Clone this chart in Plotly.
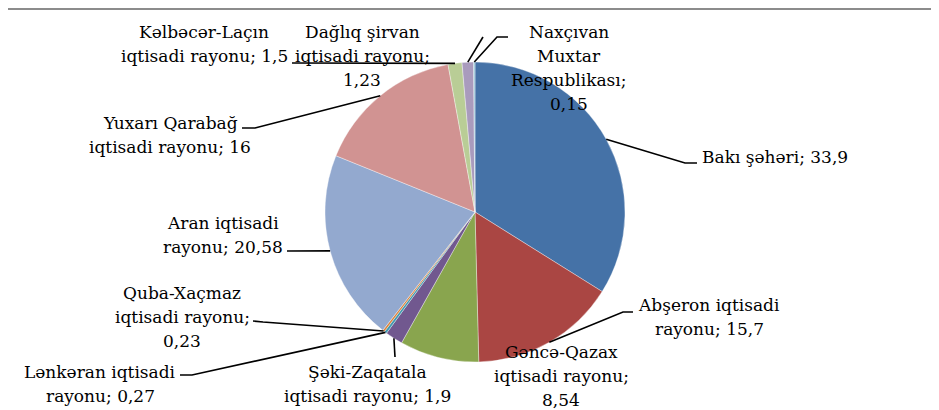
import math
import plotly.graph_objects as go

# ---- data ----
names = ["Bakı şəhəri", "Abşeron iqtisadi rayonu", "Gəncə-Qazax iqtisadi rayonu",
         "Şəki-Zaqatala iqtisadi rayonu", "Lənkəran iqtisadi rayonu",
         "Quba-Xaçmaz iqtisadi rayonu", "Aran iqtisadi rayonu",
         "Yuxarı Qarabağ iqtisadi rayonu", "Kəlbəcər-Laçın iqtisadi rayonu",
         "Dağlıq şirvan iqtisadi rayonu", "Naxçıvan Muxtar Respublikası"]
values = [33.9, 15.7, 8.54, 1.9, 0.27, 0.23, 20.58, 16, 1.5, 1.23, 0.15]
colors = ["#4572A7", "#AA4643", "#89A54E", "#71588F", "#4198AF", "#DB843D",
          "#93A9CF", "#D19392", "#B9CD96", "#A99BBD", "#91C3D5"]

# ---- layout (target pixels in the 939x410 window) ----
OFF = 8                      # page body margin
W, H = 939 - OFF, 410 - OFF  # figure size
CX, CY, R = 475, 212, 150
FONT = "DejaVu Serif"
FS = 17
LINE_H = 24

# words per line for each label
wraps = [[3], [2, 2], [1, 2, 1], [1, 3], [2, 2], [1, 2, 1], [2, 2], [2, 3], [1, 3], [2, 2, 1], [1, 1, 1, 1]]
# label position: (center x, first line center y)
label_pos = [(775, 157), (709, 305), (561, 352), (367, 372), (100, 372), (182, 293),
             (223, 223), (170, 123), (204, 32), (362, 32), (569, 32)]
# leader line extra points after the pie edge point
leader_pts = [[(685, 163), (697, 163)], [(623, 312), (633, 312)], [], [(395, 357)],
              [(192, 375), (180, 375)], [(263, 322), (253, 321)], [(287, 251)],
              [(255, 128), (242, 128)], [(292, 63)], [(483, 37)], [(497, 37), (508, 37)]]


def px(x):
    return (x - OFF) / W


def py(y):
    return 1 - (y - OFF) / H


def fmt(v):
    return ("%g" % v).replace(".", ",")


fig = go.Figure(go.Pie(
    labels=names, values=values, sort=False, direction="clockwise", rotation=0,
    marker=dict(colors=colors, line=dict(color="rgba(255,255,255,0.6)", width=0.6)),
    textinfo="none", hoverinfo="label+value", showlegend=False,
    domain=dict(x=[px(CX - R), px(CX + R)], y=[py(CY + R), py(CY - R)]),
))

annotations = []
shapes = []
total = sum(values)
cum = 0.0
for i, (n, v) in enumerate(zip(names, values)):
    mid = (cum + v / 2) / total * 2 * math.pi
    cum += v
    words = f"{n}; {fmt(v)}".split(" ")
    lines = []
    k = 0
    for c in wraps[i]:
        lines.append(" ".join(words[k:k + c]))
        k += c
    lx, ly = label_pos[i]
    for j, ln in enumerate(lines):
        annotations.append(dict(
            x=px(lx), y=py(ly + j * LINE_H), xref="paper", yref="paper",
            text=ln, showarrow=False, xanchor="center", yanchor="middle",
            font=dict(family=FONT, size=FS, color="#000000")))
    if leader_pts[i]:
        sx = CX + R * math.sin(mid)
        sy = CY - R * math.cos(mid)
        pts = [(sx, sy)] + leader_pts[i]
        path = "M " + " L ".join(f"{px(a):.5f},{py(b):.5f}" for a, b in pts)
        shapes.append(dict(type="path", path=path, xref="paper", yref="paper",
                           line=dict(color="#000000", width=1.6)))

# chart frame (only left and top edges visible)
shapes.append(dict(type="rect", xref="paper", yref="paper",
                   x0=px(5), x1=px(960), y0=py(9), y1=py(430),
                   line=dict(color="#8c8c8c", width=2)))

fig.update_layout(
    width=W, height=H, margin=dict(l=0, r=0, t=0, b=0),
    paper_bgcolor="white", plot_bgcolor="white",
    font=dict(family=FONT),
    annotations=annotations, shapes=shapes,
)

fig.write_html("out.html")
